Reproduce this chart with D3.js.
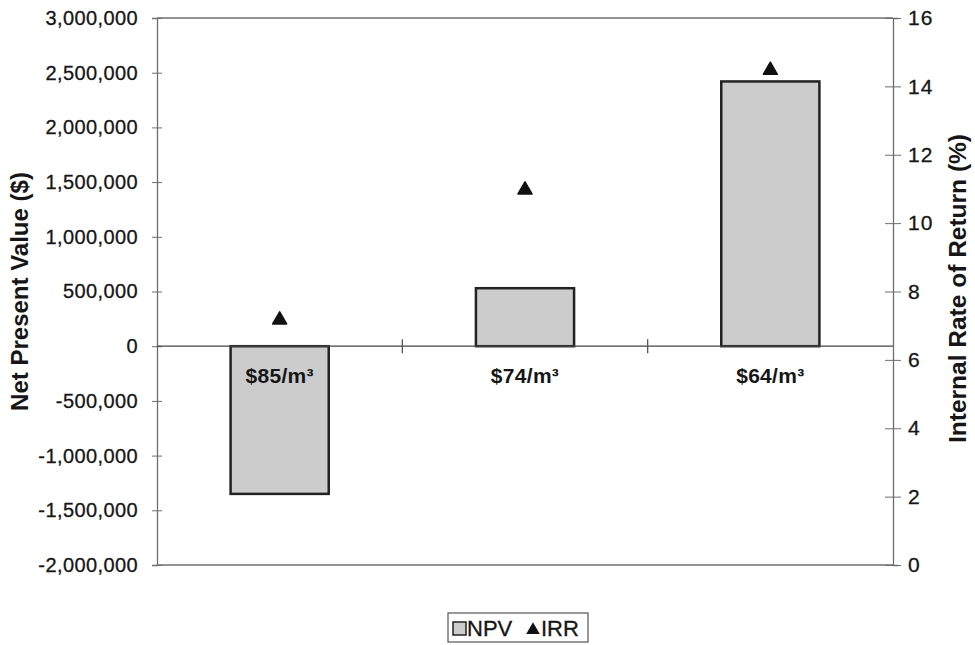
<!DOCTYPE html>
<html>
<head>
<meta charset="utf-8">
<script src="https://cdn.jsdelivr.net/npm/d3@7"></script>
<style>
  html, body { margin: 0; padding: 0; background: #fff; }
  svg { display: block; font-family: "Liberation Sans", Arial, sans-serif; }
</style>
</head>
<body>
<svg id="chart" width="975" height="645"></svg>
<script>
const categories = ["$85/m³", "$74/m³", "$64/m³"];
const npvValues = [-1350000, 530000, 2420000];
const irrValues = [7.2, 11.0, 14.5];
const npvTicks = [-2000000, -1500000, -1000000, -500000, 0, 500000, 1000000, 1500000, 2000000, 2500000, 3000000];
const irrTicks = [0, 2, 4, 6, 8, 10, 12, 14, 16];
const legendLabels = ["NPV", "IRR"];

(function () {
const svg = d3.select("#chart");
const pLeft = 157, pRight = 893, pTop = 18, pBottom = 565;
const ink = "#161616";

const x = d3.scaleBand().domain(categories).range([pLeft, pRight]).paddingInner(0).paddingOuter(0);
const yL = d3.scaleLinear().domain([-2000000, 3000000]).range([pBottom, pTop]);
const yR = d3.scaleLinear().domain([0, 16]).range([pBottom, pTop]);
const fmt = d => d3.format(",")(d).replace("\u2212", "-");

// frame
const frameColor = "#6e6e6e";
svg.append("line").attr("x1", pLeft).attr("x2", pRight).attr("y1", pTop).attr("y2", pTop)
  .attr("stroke", frameColor).attr("stroke-width", 1.3);
svg.append("line").attr("x1", pLeft).attr("x2", pRight).attr("y1", pBottom).attr("y2", pBottom)
  .attr("stroke", frameColor).attr("stroke-width", 1.3);

// left axis
const gL = svg.append("g").attr("transform", `translate(${pLeft},0)`)
  .call(d3.axisLeft(yL).tickValues(npvTicks).tickFormat(fmt).tickSize(5).tickPadding(14));
gL.select(".domain").attr("stroke", frameColor).attr("stroke-width", 1.3);
gL.selectAll(".tick line").attr("stroke", frameColor).attr("x2", -5).attr("x1", 5);
gL.selectAll(".tick text").attr("font-size", 20).attr("fill", ink)
  .attr("stroke", ink).attr("stroke-width", 0.3).attr("letter-spacing", 0.4)
  .attr("font-family", "'Liberation Sans', Arial, sans-serif");

// right axis
const gR = svg.append("g").attr("transform", `translate(${pRight},0)`)
  .call(d3.axisRight(yR).tickValues(irrTicks).tickSize(5).tickPadding(10));
gR.select(".domain").attr("stroke", frameColor).attr("stroke-width", 1.3);
gR.selectAll(".tick line").attr("stroke", frameColor).attr("x1", -8).attr("x2", 8);
gR.selectAll(".tick text").attr("font-size", 21).attr("fill", ink)
  .attr("stroke", ink).attr("stroke-width", 0.3).attr("letter-spacing", 1)
  .attr("font-family", "'Liberation Sans', Arial, sans-serif");

// bars
svg.append("g").selectAll("rect").data(categories).join("rect")
  .attr("x", (d) => x(d) + x.bandwidth() * 0.3)
  .attr("width", x.bandwidth() * 0.4)
  .attr("y", (d, i) => Math.min(yL(npvValues[i]), yL(0)))
  .attr("height", (d, i) => Math.abs(yL(npvValues[i]) - yL(0)))
  .attr("fill", "#cccccc")
  .attr("stroke", "#222")
  .attr("stroke-width", 2.5);

// zero line (category axis)
const zero = yL(0);
svg.append("line").attr("x1", pLeft).attr("x2", pRight).attr("y1", zero).attr("y2", zero)
  .attr("stroke", "#444").attr("stroke-width", 1.3);
const boundaries = categories.slice(1).map(c => x(c));
svg.append("g").selectAll("line").data(boundaries).join("line")
  .attr("x1", d => d).attr("x2", d => d)
  .attr("y1", zero - 7).attr("y2", zero + 7)
  .attr("stroke", "#555").attr("stroke-width", 1.3);

// category labels
svg.append("g").selectAll("text").data(categories).join("text")
  .attr("x", d => x(d) + x.bandwidth() / 2)
  .attr("y", zero + 37)
  .attr("text-anchor", "middle")
  .attr("font-size", 21).attr("font-weight", "bold").attr("fill", ink)
  .attr("letter-spacing", 0.3)
  .text(d => d);

// IRR triangles
const tri = d3.symbol().type(d3.symbolTriangle).size(85);
svg.append("g").selectAll("path").data(categories).join("path")
  .attr("d", tri)
  .attr("transform", (d, i) => `translate(${x(d) + x.bandwidth() / 2},${yR(irrValues[i]) + 1})`)
  .attr("fill", "#111")
  .attr("stroke", "#111").attr("stroke-width", 1.5).attr("stroke-linejoin", "round");

// axis titles
svg.append("text")
  .attr("transform", `translate(28,${(pTop + pBottom) / 2}) rotate(-90)`)
  .attr("text-anchor", "middle")
  .attr("font-size", 24).attr("font-weight", "bold").attr("fill", ink)
  .text("Net Present Value ($)");
svg.append("text")
  .attr("transform", `translate(966,${(pTop + pBottom) / 2 - 3}) rotate(-90)`)
  .attr("text-anchor", "middle")
  .attr("font-size", 24.5).attr("font-weight", "bold").attr("fill", ink)
  .text("Internal Rate of Return (%)");

// legend
const lg = svg.append("g");
lg.append("rect").attr("x", 448).attr("y", 613).attr("width", 140).attr("height", 29)
  .attr("fill", "#fff").attr("stroke", "#555").attr("stroke-width", 1.2);
lg.append("rect").attr("x", 453).attr("y", 622).attr("width", 13).attr("height", 13)
  .attr("fill", "#cccccc").attr("stroke", "#222").attr("stroke-width", 1.5);
lg.append("text").attr("x", 467).attr("y", 636).attr("font-size", 22).attr("fill", ink)
  .attr("stroke", ink).attr("stroke-width", 0.3)
  .text(legendLabels[0]);
lg.append("path").attr("d", d3.symbol().type(d3.symbolTriangle).size(80))
  .attr("transform", "translate(533,630)").attr("fill", "#111");
lg.append("text").attr("x", 541).attr("y", 636).attr("font-size", 22).attr("fill", ink)
  .attr("stroke", ink).attr("stroke-width", 0.3)
  .text(legendLabels[1]);
})();
</script>
</body>
</html>
